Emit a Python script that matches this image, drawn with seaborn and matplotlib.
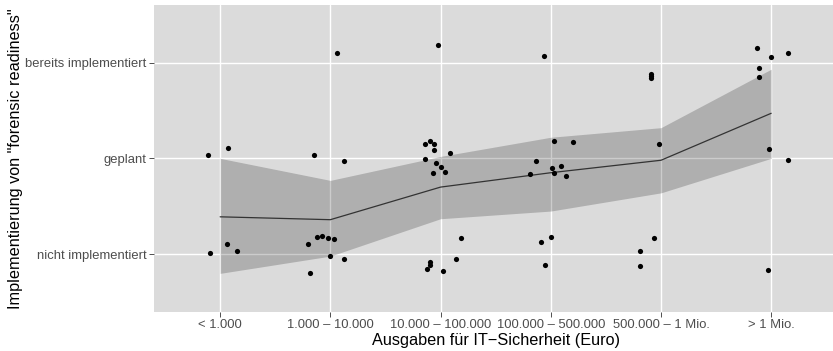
import numpy as np
import pandas as pd
import matplotlib
matplotlib.use("Agg")
import matplotlib.pyplot as plt
import seaborn as sns

# ---- data ----
categories = ["< 1.000", "1.000 – 10.000", "10.000 – 100.000",
              "100.000 – 500.000", "500.000 – 1 Mio.", "> 1 Mio."]
levels = ["nicht implementiert", "geplant", "bereits implementiert"]

# jittered observations (category position 1..6, level 1..3 with jitter)
point_x = [0.887, 1.07, 1.06, 0.91, 1.15,
           2.06, 1.85, 2.12, 1.80, 1.875, 1.92, 1.975, 2.03, 2.00, 2.12, 1.82,
           2.98, 2.86, 2.90, 2.94, 2.94, 3.09, 2.86, 2.96, 3.00, 3.04, 2.93,
           3.19, 3.14, 2.90, 2.90, 2.88, 3.02,
           3.94, 4.03, 4.20, 3.87, 4.01, 4.09, 4.03, 3.81, 4.14, 3.91, 4.00, 3.95,
           4.91, 4.91, 4.91, 4.98, 4.94, 4.81, 4.81,
           5.87, 6.00, 6.15, 5.89, 5.89, 5.98, 6.15, 5.97]
point_y = [2.04, 2.11, 1.11, 1.01, 1.03,
           3.10, 2.03, 1.97, 1.11, 1.18, 1.19, 1.17, 1.16, 0.98, 0.955, 0.80,
           3.18, 2.15, 2.18, 2.15, 2.09, 2.06, 1.99, 1.955, 1.91, 1.86, 1.85,
           1.17, 0.95, 0.92, 0.89, 0.85, 0.82,
           3.07, 2.18, 2.17, 1.97, 1.90, 1.92, 1.85, 1.84, 1.82, 1.13, 1.18, 0.89,
           2.88, 2.86, 2.84, 2.15, 1.17, 1.03, 0.88,
           3.15, 3.06, 3.10, 2.94, 2.85, 2.10, 1.98, 0.84]

mean_level = [1.39, 1.36, 1.70, 1.85, 1.98, 2.47]
lower_ci = [0.80, 0.98, 1.37, 1.45, 1.64, 2.00]
upper_ci = [2.00, 1.77, 2.02, 2.22, 2.32, 2.93]

# ---- style ----
sns.set_theme(style="darkgrid", rc={
    "axes.facecolor": "#DBDBDB",
    "grid.color": "white",
    "grid.linewidth": 1.0,
})
plt.rcParams["font.family"] = ["Liberation Sans", "DejaVu Sans"]

W, H = 833, 351
fig = plt.figure(figsize=(W / 100, H / 100), dpi=100)
left, right, top, bottom = 154, 837.3, 5, 311.7
ax = fig.add_axes([left / W, 1 - bottom / H, (right - left) / W, (bottom - top) / H])

cat_pos = np.arange(1, len(categories) + 1)
summary = pd.DataFrame({"pos": cat_pos, "mean": mean_level,
                        "lo": lower_ci, "hi": upper_ci})
points = pd.DataFrame({"x": point_x, "y": point_y})

ax.fill_between(summary["pos"], summary["lo"], summary["hi"],
                color="black", alpha=0.2, linewidth=0, zorder=2)
sns.lineplot(data=summary, x="pos", y="mean", ax=ax, color="#333333",
             linewidth=0.9, zorder=3)
sns.scatterplot(data=points, x="x", y="y", ax=ax, color="black", s=14,
                linewidth=0, zorder=4)

ax.set_xlim(0.4, 6.6)
ax.set_ylim(0.4, 3.6)
ax.set_xticks(cat_pos)
ax.set_xticklabels(categories)
ax.set_yticks([1, 2, 3])
ax.set_yticklabels(levels)
for s in ax.spines.values():
    s.set_visible(False)
ax.tick_params(axis="both", which="major", length=3.5, width=0.6,
               color="#333333", labelcolor="#4D4D4D", labelsize=9.4, pad=2,
               bottom=True, left=True)
ax.grid(True, which="major")

ax.set_xlabel("Ausgaben für IT−Sicherheit (Euro)", fontsize=11.7, color="black",
              labelpad=1)
ax.set_ylabel('Implementierung von "forensic readiness"', fontsize=11.7,
              color="black")
ax.yaxis.set_label_coords((23 - left) / (right - left), 0.5)

fig.savefig("out.png", dpi=100)
